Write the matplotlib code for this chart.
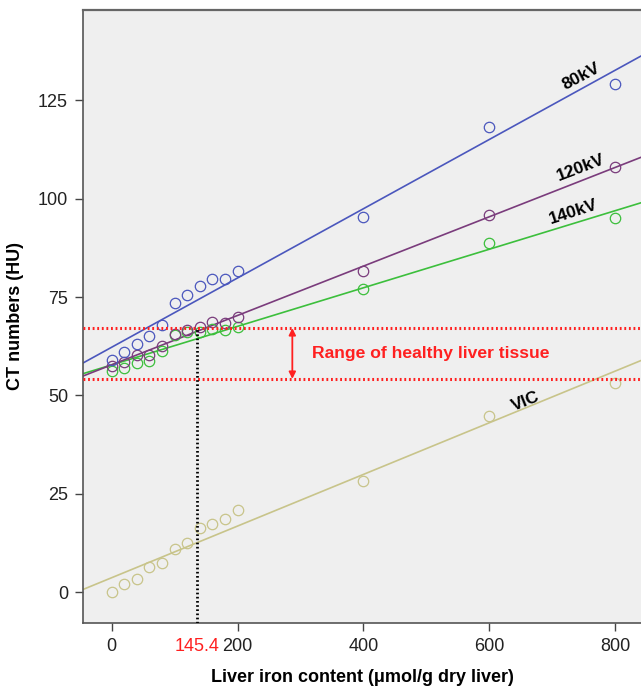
import numpy as np
import matplotlib
matplotlib.use("Agg")
import matplotlib.pyplot as plt

plt.rcParams['font.family'] = ['Liberation Sans', 'DejaVu Sans']

# Data
iron = [0, 20, 40, 60, 80, 100, 120, 140, 160, 180, 200, 400, 600, 800]
ct_80kv = [59.0, 61.0, 63.1, 65.2, 67.9, 73.6, 75.6, 77.7, 79.7, 79.6, 81.5, 95.4, 118.1, 129.1]
ct_120kv = [57.6, 58.5, 60.2, 60.2, 62.5, 65.7, 66.5, 67.3, 68.6, 68.3, 69.9, 81.6, 95.9, 107.9]
ct_140kv = [56.3, 57.0, 58.2, 58.7, 61.3, 65.3, 66.0, 66.1, 66.9, 66.5, 67.5, 77.1, 88.7, 95.0]
ct_vic = [0.1, 2.0, 3.5, 6.3, 7.4, 11.1, 12.4, 16.4, 17.4, 18.7, 20.8, 28.2, 44.7, 53.1]

series_names = ["140kV", "120kV", "80kV", "VIC"]
healthy_low = 54.2
healthy_high = 67.1
cutoff_label = "145.4"
cutoff_pos = 135.5
xticks = [0, 200, 400, 600, 800]
yticks = [0, 25, 50, 75, 100, 125]

fig = plt.figure(figsize=(6.41, 6.91), dpi=100)
ax = fig.add_axes([83/641, (691-623)/691, 1 - 83/641, (623-10)/691])
ax.set_facecolor("#efefef")

xlim = (-45.6, 841)
ylim = (-7.8, 147.9)
ax.set_xlim(*xlim)
ax.set_ylim(*ylim)

colors = {"80kV": "#4b57bd", "120kV": "#7a3c7c", "140kV": "#3cbf3c", "VIC": "#c8c48a"}
data = {"80kV": ct_80kv, "120kV": ct_120kv, "140kV": ct_140kv, "VIC": ct_vic}

xs = np.array(iron, dtype=float)
xline = np.array(xlim)
for name in series_names:
    ys = np.array(data[name])
    m, b = np.polyfit(xs, ys, 1)
    ax.plot(xline, m * xline + b, color=colors[name], lw=1.2, zorder=2)
for name in series_names:
    ax.plot(xs, data[name], linestyle="none", marker="o", ms=7.5, mfc="none",
            mec=colors[name], mew=0.9, zorder=3)

# healthy range lines
for yv in (healthy_low, healthy_high):
    ax.axhline(yv, color="#ff2020", lw=2.2, linestyle=(0, (0.6, 0.9)), zorder=4)

# vertical cutoff line
ax.plot([cutoff_pos, cutoff_pos], [ylim[0], healthy_high], color="black",
        lw=2.0, linestyle=(0, (0.6, 0.9)), zorder=4)

# double arrow
ax.annotate("", xy=(287, healthy_low), xytext=(287, healthy_high),
            arrowprops=dict(arrowstyle="<|-|>", color="#ff2020", lw=1.3,
                            mutation_scale=10, shrinkA=0, shrinkB=0), zorder=5)
ax.text(318, 60.6, "Range of healthy liver tissue", color="#ff2020",
        fontsize=12.6, fontweight="bold", ha="left", va="center")

# series labels
lab_fs = 12.5
ax.text(746, 131.0, "80kV", fontsize=lab_fs, fontweight="bold", rotation=28,
        ha="center", va="center", rotation_mode="anchor")
ax.text(745, 107.8, "120kV", fontsize=lab_fs, fontweight="bold", rotation=21,
        ha="center", va="center", rotation_mode="anchor")
ax.text(734, 96.6, "140kV", fontsize=lab_fs, fontweight="bold", rotation=18,
        ha="center", va="center", rotation_mode="anchor")
ax.text(658, 48.5, "VIC", fontsize=lab_fs, fontweight="bold", rotation=22,
        ha="center", va="center", rotation_mode="anchor")

# axes styling
ax.set_xticks(xticks)
ax.set_yticks(yticks)
ax.tick_params(axis="both", which="major", direction="out", length=5.8, width=1.0,
               color="#444444", labelsize=13, labelcolor="#222222", pad=5)
# red cutoff label as a minor tick label without a mark
ax.set_xticks([cutoff_pos], labels=[cutoff_label], minor=True)
ax.tick_params(axis="x", which="minor", length=0, labelsize=13,
               labelcolor="#ff2020", pad=5 + 5.8)
ax.yaxis.set_minor_locator(matplotlib.ticker.NullLocator())

for s in ("left", "bottom"):
    ax.spines[s].set_color("#555555")
    ax.spines[s].set_linewidth(1.2)
ax.spines["top"].set_color("#666666")
ax.spines["top"].set_linewidth(1.6)
ax.spines["right"].set_visible(False)

ax.set_ylabel("CT numbers (HU)", fontsize=13, fontweight="bold", labelpad=10)
ax.set_xlabel("Liver iron content (μmol/g dry liver)", fontsize=13,
              fontweight="bold", labelpad=10)

fig.savefig("out.png", dpi=100)
